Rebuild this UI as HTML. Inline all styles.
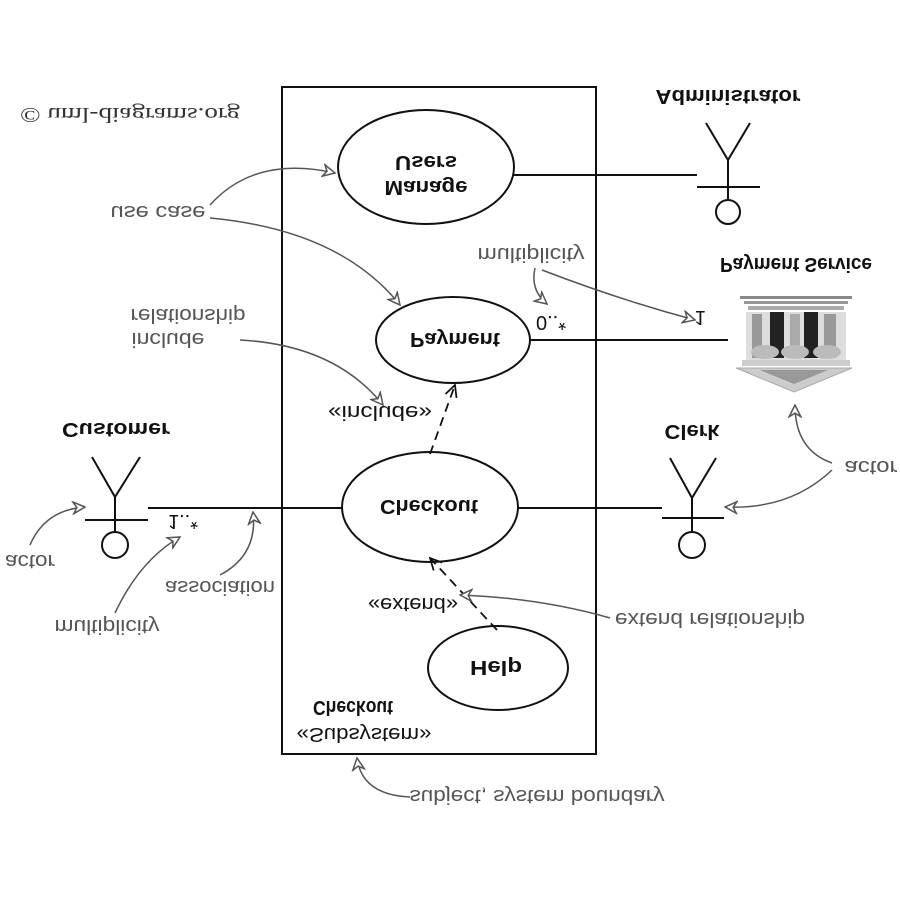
<!DOCTYPE html>
<html><head><meta charset="utf-8"><style>
html,body{margin:0;padding:0;background:#fff;}
svg{display:block;}
.b{font-family:"Liberation Sans",sans-serif;font-weight:bold;font-size:20px;fill:#111;}
.a{font-family:"Liberation Sans",sans-serif;font-size:20px;fill:#555;}
.n{font-family:"Liberation Sans",sans-serif;font-size:20px;fill:#111;}
</style></head><body>
<svg width="900" height="900" viewBox="0 0 900 900" xmlns="http://www.w3.org/2000/svg">
<defs>
<marker id="oa" viewBox="0 0 12 12" refX="11" refY="6" markerWidth="14" markerHeight="14" markerUnits="userSpaceOnUse" orient="auto">
<path d="M1,1 L11,6 L1,11 L4,6 Z" fill="#fff" stroke="#555" stroke-width="1.3"/>
</marker>
<marker id="da" viewBox="0 0 12 12" refX="11" refY="6" markerWidth="14" markerHeight="14" markerUnits="userSpaceOnUse" orient="auto">
<path d="M1,1 L11,6 L1,11" fill="none" stroke="#111" stroke-width="1.5"/>
</marker>
</defs>
<rect width="900" height="900" fill="#fff"/>
<g transform="matrix(1,0,0,-1,0,900)">
<text x="20" y="792" textLength="220" lengthAdjust="spacingAndGlyphs" style="font-family:'Liberation Serif',serif;font-size:21px;fill:#333">© uml-diagrams.org</text>
<rect x="282" y="146" width="314" height="667" fill="none" stroke="#111" stroke-width="2"/>
<g fill="#fff" stroke="#111" stroke-width="2">
<ellipse cx="426" cy="733" rx="88" ry="57"/>
<ellipse cx="453" cy="560" rx="77" ry="43"/>
<ellipse cx="430" cy="393" rx="88" ry="55"/>
<ellipse cx="498" cy="232" rx="70" ry="42"/>
</g>
<text class="b" x="426" y="719" text-anchor="middle" textLength="83" lengthAdjust="spacingAndGlyphs">Manage</text>
<text class="b" x="426" y="744" text-anchor="middle" textLength="62" lengthAdjust="spacingAndGlyphs">Users</text>
<text class="b" x="455" y="567" text-anchor="middle" textLength="90" lengthAdjust="spacingAndGlyphs">Payment</text>
<text class="b" x="429" y="400" text-anchor="middle" textLength="98" lengthAdjust="spacingAndGlyphs">Checkout</text>
<text class="b" x="496" y="239" text-anchor="middle" textLength="52" lengthAdjust="spacingAndGlyphs">Help</text>
<text class="b" x="353" y="199" text-anchor="middle" textLength="80" lengthAdjust="spacingAndGlyphs">Checkout</text>
<text class="n" x="364" y="172" text-anchor="middle" textLength="135" lengthAdjust="spacingAndGlyphs">«Subsystem»</text>
<text class="n" x="380" y="494" text-anchor="middle" textLength="104" lengthAdjust="spacingAndGlyphs">«include»</text>
<text class="n" x="413" y="302" text-anchor="middle" textLength="90" lengthAdjust="spacingAndGlyphs">«extend»</text>
<g stroke="#111" stroke-width="2" fill="none">
<line x1="514" y1="725" x2="697" y2="725"/>
<line x1="530" y1="560" x2="728" y2="560"/>
<line x1="148" y1="392" x2="342" y2="392"/>
<line x1="518" y1="392" x2="662" y2="392"/>
</g>
<g stroke="#111" stroke-width="1.8" fill="none" stroke-dasharray="9,6">
<line x1="430" y1="446" x2="455" y2="515" marker-end="url(#da)"/>
<line x1="497" y1="270" x2="430" y2="342" marker-end="url(#da)"/>
</g>
<text class="n" x="551" y="584" text-anchor="middle">0..*</text>
<text class="n" x="700" y="589" text-anchor="middle">1</text>
<text class="n" x="183" y="385" text-anchor="middle">1..*</text>
<g stroke="#111" stroke-width="2" fill="#fff">
<circle cx="728" cy="688" r="12"/>
<line x1="728" y1="700" x2="728" y2="740"/>
<line x1="697" y1="713" x2="760" y2="713"/>
<polyline points="706,777 728,740 750,777" fill="none"/>
<circle cx="115" cy="355" r="13"/>
<line x1="115" y1="368" x2="115" y2="403"/>
<line x1="85" y1="380" x2="148" y2="380"/>
<polyline points="92,443 115,403 140,443" fill="none"/>
<circle cx="692" cy="355" r="13"/>
<line x1="692" y1="368" x2="692" y2="402"/>
<line x1="662" y1="382" x2="724" y2="382"/>
<polyline points="670,442 692,402 716,442" fill="none"/>
</g>
<text class="b" x="728" y="810" text-anchor="middle" textLength="145" lengthAdjust="spacingAndGlyphs">Administrator</text>
<text class="b" x="116" y="477" text-anchor="middle" textLength="108" lengthAdjust="spacingAndGlyphs">Customer</text>
<text class="b" x="692" y="475" text-anchor="middle" textLength="55" lengthAdjust="spacingAndGlyphs">Clerk</text>
<text class="b" x="796" y="642" text-anchor="middle" textLength="152" lengthAdjust="spacingAndGlyphs">Payment Service</text>
<text class="a" x="158" y="694" text-anchor="middle" textLength="95" lengthAdjust="spacingAndGlyphs">use case</text>
<text class="a" x="531" y="652" text-anchor="middle" textLength="107" lengthAdjust="spacingAndGlyphs">multiplicity</text>
<text class="a" x="168" y="567" text-anchor="middle" textLength="73" lengthAdjust="spacingAndGlyphs">include</text>
<text class="a" x="188" y="591" text-anchor="middle" textLength="115" lengthAdjust="spacingAndGlyphs">relationship</text>
<text class="a" x="871" y="439" text-anchor="middle" textLength="53" lengthAdjust="spacingAndGlyphs">actor</text>
<text class="a" x="30" y="345" text-anchor="middle" textLength="50" lengthAdjust="spacingAndGlyphs">actor</text>
<text class="a" x="107" y="280" text-anchor="middle" textLength="105" lengthAdjust="spacingAndGlyphs">multiplicity</text>
<text class="a" x="220" y="319" text-anchor="middle" textLength="110" lengthAdjust="spacingAndGlyphs">association</text>
<text class="a" x="710" y="287" text-anchor="middle" textLength="190" lengthAdjust="spacingAndGlyphs">extend relationship</text>
<text class="a" x="537" y="110" text-anchor="middle" textLength="255" lengthAdjust="spacingAndGlyphs">subject, system boundary</text>
<g stroke="#555" stroke-width="1.5" fill="none">
<path d="M210,695 Q255,745 335,727" marker-end="url(#oa)"/>
<path d="M210,682 Q340,670 400,595" marker-end="url(#oa)"/>
<path d="M535,632 Q530,610 547,596" marker-end="url(#oa)"/>
<path d="M542,630 Q620,600 695,580" marker-end="url(#oa)"/>
<path d="M240,560 Q335,555 383,495" marker-end="url(#oa)"/>
<path d="M832,437 Q795,450 795,495" marker-end="url(#oa)"/>
<path d="M832,430 Q790,390 725,393" marker-end="url(#oa)"/>
<path d="M30,355 Q45,390 85,393" marker-end="url(#oa)"/>
<path d="M115,287 Q140,340 180,363" marker-end="url(#oa)"/>
<path d="M220,325 Q258,345 253,388" marker-end="url(#oa)"/>
<path d="M610,282 Q540,302 460,305" marker-end="url(#oa)"/>
<path d="M410,103 Q362,105 357,142" marker-end="url(#oa)"/>
</g>
</g>
<g>
<rect x="740" y="296" width="112" height="3" fill="#888"/>
<rect x="744" y="301" width="104" height="3" fill="#999"/>
<rect x="748" y="306" width="96" height="4" fill="#aaa"/>
<rect x="746" y="312" width="100" height="48" fill="#ddd"/>
<rect x="752" y="314" width="10" height="44" fill="#999"/>
<rect x="770" y="312" width="14" height="46" fill="#222"/>
<rect x="790" y="314" width="10" height="44" fill="#aaa"/>
<rect x="804" y="312" width="14" height="46" fill="#222"/>
<rect x="824" y="314" width="12" height="44" fill="#999"/>
<ellipse cx="765" cy="352" rx="14" ry="7" fill="#bbb"/>
<ellipse cx="795" cy="352" rx="14" ry="7" fill="#bbb"/>
<ellipse cx="827" cy="352" rx="14" ry="7" fill="#bbb"/>
<rect x="742" y="360" width="108" height="6" fill="#ccc"/>
<polygon points="736,368 852,368 794,392" fill="#ccc" stroke="#aaa"/>
<polygon points="760,370 828,370 794,384" fill="#999"/>
</g>
</svg>
</body></html>
